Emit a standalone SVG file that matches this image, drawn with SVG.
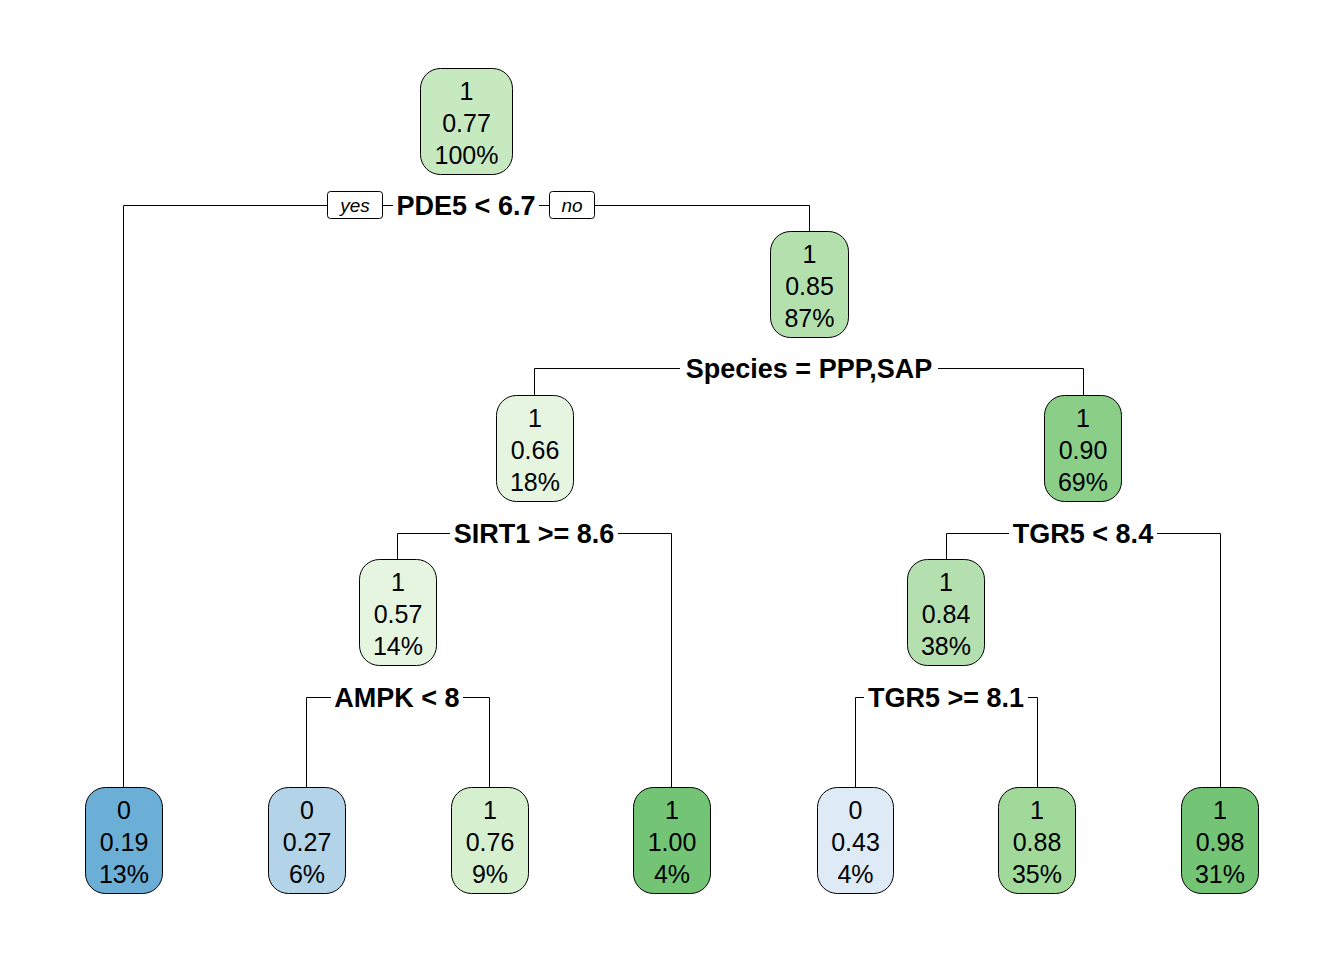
<svg xmlns="http://www.w3.org/2000/svg" width="1344" height="960" viewBox="0 0 1344 960">
<style>
.box{stroke:#000;stroke-width:1}
.t{font-family:"Liberation Sans",Arial,sans-serif;font-size:25px;text-anchor:middle;fill:#000}
.lab{font-family:"Liberation Sans",Arial,sans-serif;font-size:27px;font-weight:bold;text-anchor:middle;fill:#000}
.yn{font-family:"Liberation Sans",Arial,sans-serif;font-size:19px;font-style:italic;text-anchor:middle;fill:#000}
.ln{fill:none;stroke:#000;stroke-width:1}
.bg{fill:#fff}
.ynb{fill:#fff;stroke:#000;stroke-width:1}
</style>
<rect width="1344" height="960" fill="#fff"/>
<g id="connectors">
<path class="ln" d="M123.5 787 V205.5 H809.5 V231"/>
<path class="ln" d="M534.5 395 V368.5 H1083.5 V395"/>
<path class="ln" d="M397.5 559 V533.5 H671.5 V787"/>
<path class="ln" d="M946.5 559 V533.5 H1220.5 V787"/>
<path class="ln" d="M306.5 787 V697.5 H489.5 V787"/>
<path class="ln" d="M855.5 787 V697.5 H1037.5 V787"/>
<rect class="bg" x="393" y="191" width="146" height="29"/>
<rect class="ynb" x="327.5" y="191.5" width="55" height="27" rx="3"/>
<text class="yn" x="355" y="212">yes</text>
<rect class="ynb" x="549.5" y="191.5" width="45" height="27" rx="3"/>
<text class="yn" x="572" y="212">no</text>
<text class="lab" x="466" y="215">PDE5 &lt; 6.7</text>
<rect class="bg" x="680" y="354" width="258" height="29"/>
<text class="lab" x="809" y="378">Species = PPP,SAP</text>
<rect class="bg" x="450" y="519" width="168" height="29"/>
<text class="lab" x="534" y="543">SIRT1 &gt;= 8.6</text>
<rect class="bg" x="1009" y="519" width="148" height="29"/>
<text class="lab" x="1083" y="543">TGR5 &lt; 8.4</text>
<rect class="bg" x="331" y="683" width="132" height="29"/>
<text class="lab" x="397" y="707">AMPK &lt; 8</text>
<rect class="bg" x="864" y="683" width="164" height="29"/>
<text class="lab" x="946" y="707">TGR5 &gt;= 8.1</text>
</g>
<g id="n1"><rect class="box" x="420.5" y="68.5" width="92" height="106" rx="20" fill="#C7E9C0"/><text class="t" x="466.5" y="99.5">1</text><text class="t" x="466.5" y="131.5">0.77</text><text class="t" x="466.5" y="163.5">100%</text></g>
<g id="n3"><rect class="box" x="770.5" y="231.5" width="78" height="106" rx="20" fill="#B3E0AC"/><text class="t" x="809.5" y="263">1</text><text class="t" x="809.5" y="295">0.85</text><text class="t" x="809.5" y="327">87%</text></g>
<g id="n6"><rect class="box" x="496.5" y="395.5" width="77" height="106" rx="20" fill="#E5F5E0"/><text class="t" x="535" y="427">1</text><text class="t" x="535" y="459">0.66</text><text class="t" x="535" y="491">18%</text></g>
<g id="n7"><rect class="box" x="1044.5" y="395.5" width="77" height="106" rx="20" fill="#8ACE88"/><text class="t" x="1083" y="427">1</text><text class="t" x="1083" y="459">0.90</text><text class="t" x="1083" y="491">69%</text></g>
<g id="n12"><rect class="box" x="359.5" y="559.5" width="77" height="106" rx="20" fill="#E5F5E0"/><text class="t" x="398" y="591">1</text><text class="t" x="398" y="623">0.57</text><text class="t" x="398" y="655">14%</text></g>
<g id="n14"><rect class="box" x="907.5" y="559.5" width="77" height="106" rx="20" fill="#B4DFAE"/><text class="t" x="946" y="591">1</text><text class="t" x="946" y="623">0.84</text><text class="t" x="946" y="655">38%</text></g>
<g id="n2"><rect class="box" x="85.5" y="787.5" width="77" height="106" rx="20" fill="#6BAED6"/><text class="t" x="124" y="819">0</text><text class="t" x="124" y="851">0.19</text><text class="t" x="124" y="883">13%</text></g>
<g id="n24"><rect class="box" x="268.5" y="787.5" width="77" height="106" rx="20" fill="#B2D3E8"/><text class="t" x="307" y="819">0</text><text class="t" x="307" y="851">0.27</text><text class="t" x="307" y="883">6%</text></g>
<g id="n25"><rect class="box" x="451.5" y="787.5" width="77" height="106" rx="20" fill="#D5EFCF"/><text class="t" x="490" y="819">1</text><text class="t" x="490" y="851">0.76</text><text class="t" x="490" y="883">9%</text></g>
<g id="n13"><rect class="box" x="633.5" y="787.5" width="77" height="106" rx="20" fill="#74C476"/><text class="t" x="672" y="819">1</text><text class="t" x="672" y="851">1.00</text><text class="t" x="672" y="883">4%</text></g>
<g id="n28"><rect class="box" x="817.5" y="787.5" width="76" height="106" rx="20" fill="#DEEBF7"/><text class="t" x="855.5" y="819">0</text><text class="t" x="855.5" y="851">0.43</text><text class="t" x="855.5" y="883">4%</text></g>
<g id="n29"><rect class="box" x="998.5" y="787.5" width="77" height="106" rx="20" fill="#A1D99B"/><text class="t" x="1037" y="819">1</text><text class="t" x="1037" y="851">0.88</text><text class="t" x="1037" y="883">35%</text></g>
<g id="n15"><rect class="box" x="1181.5" y="787.5" width="77" height="106" rx="20" fill="#74C476"/><text class="t" x="1220" y="819">1</text><text class="t" x="1220" y="851">0.98</text><text class="t" x="1220" y="883">31%</text></g>
</svg>
